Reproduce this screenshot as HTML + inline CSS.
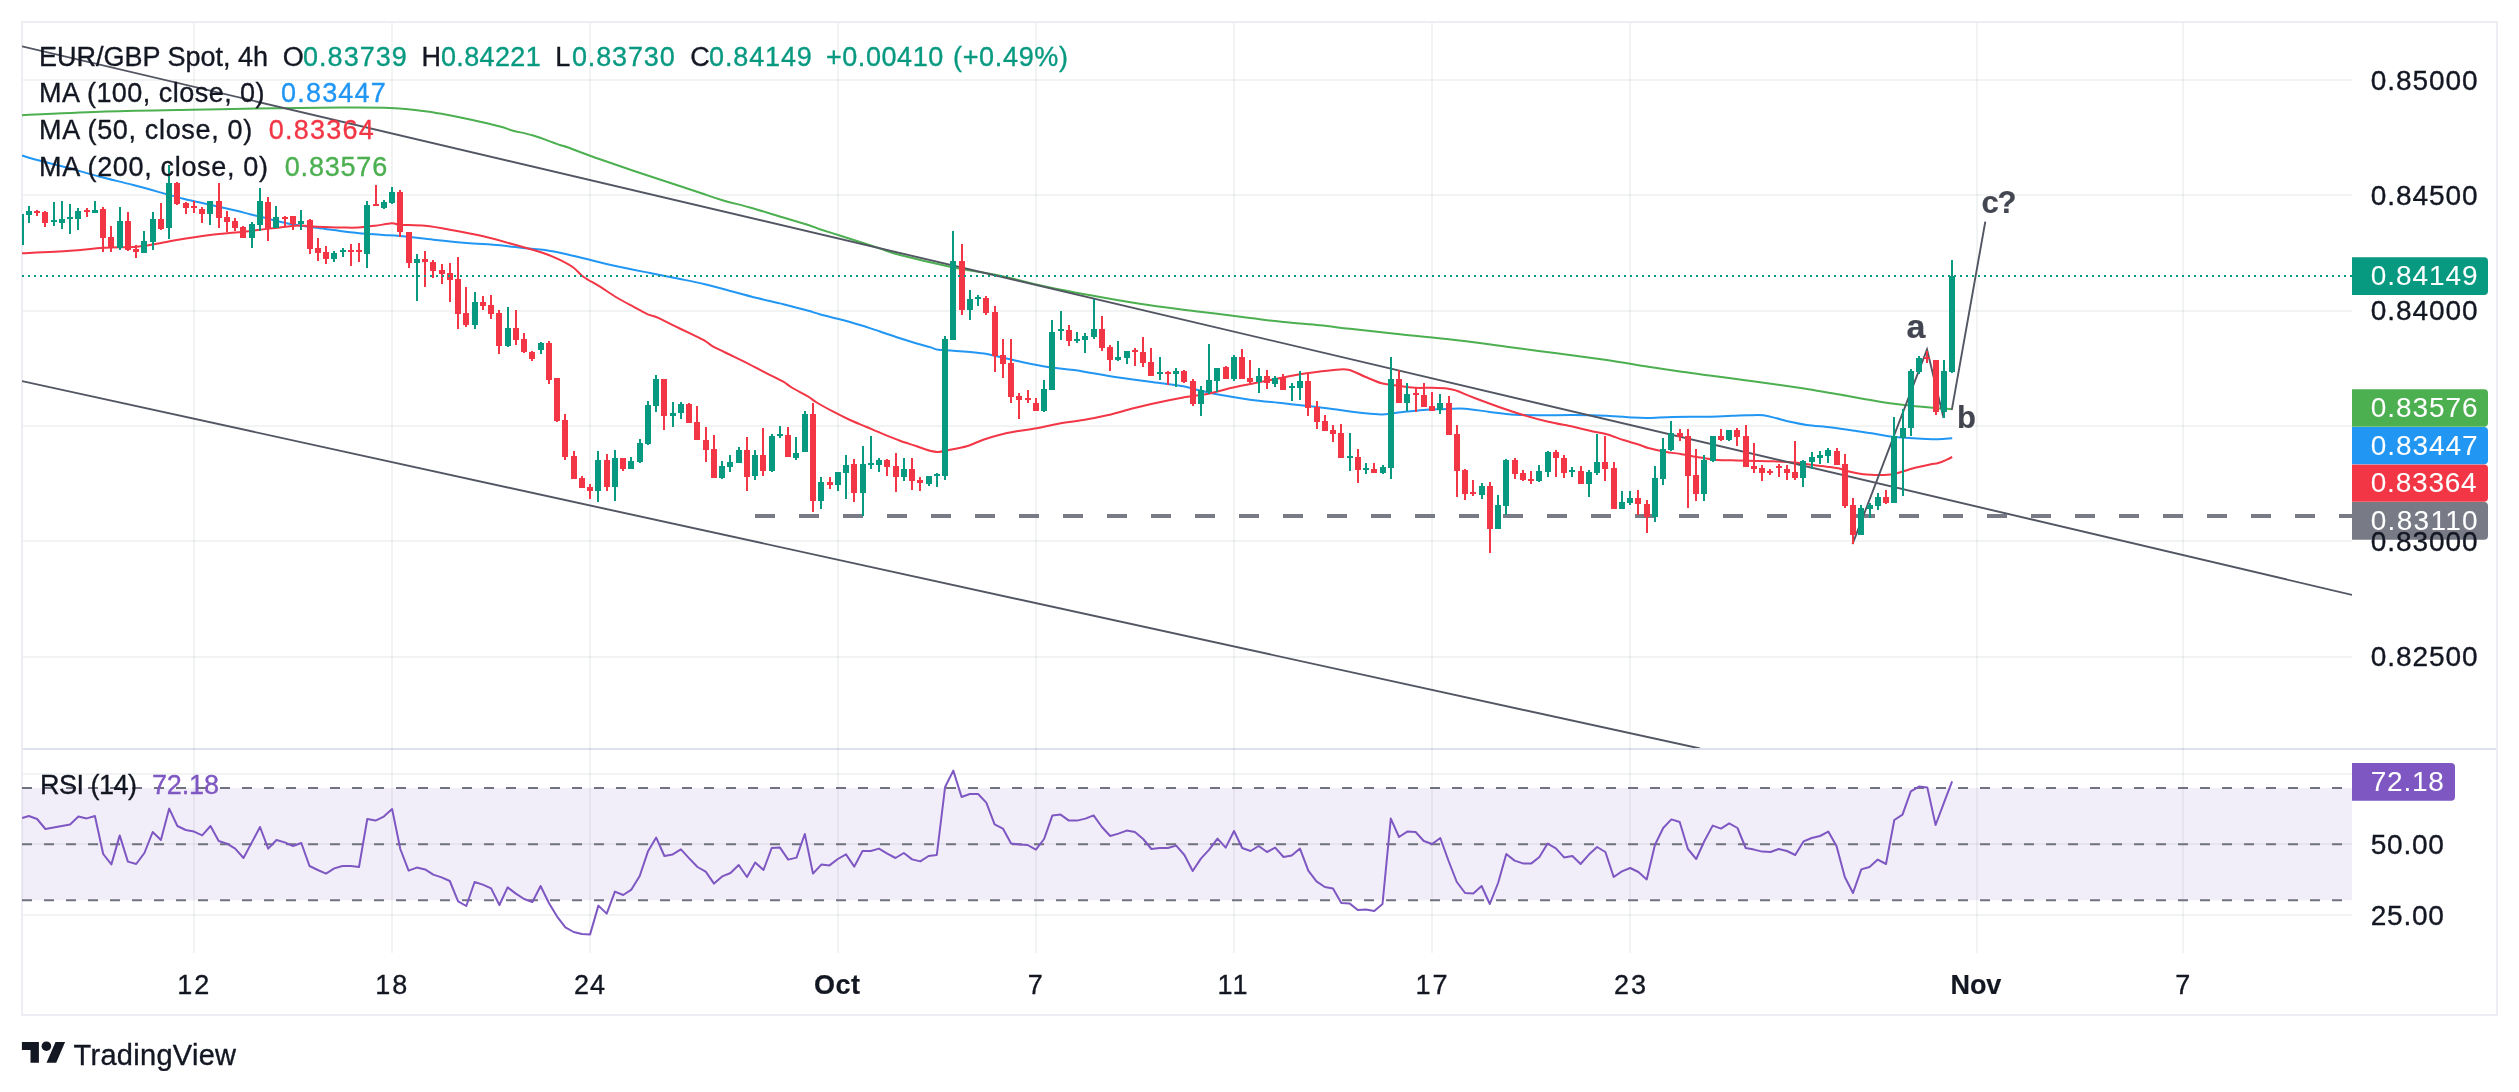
<!DOCTYPE html><html><head><meta charset="utf-8"><title>EUR/GBP chart</title><style>html,body{margin:0;padding:0;background:#fff}svg{display:block}</style></head><body><svg width="2519" height="1092" viewBox="0 0 2519 1092" font-family="Liberation Sans, sans-serif">
<defs><clipPath id="cm"><rect x="22" y="22" width="2330" height="726"/></clipPath><clipPath id="cr"><rect x="22" y="749" width="2330" height="204"/></clipPath><filter id="nf" filterUnits="userSpaceOnUse" x="0" y="0" width="2519" height="1092"><feOffset dx="0" dy="0"/></filter></defs>
<rect width="2519" height="1092" fill="#fff"/>
<path d="M23 749H2496" stroke="#DDE1EB" stroke-width="2" fill="none"/>
<rect x="22" y="22" width="2475" height="993" fill="none" stroke="#ECEEF3" stroke-width="2"/>
<path d="M194 23V953M392 23V953M590 23V953M838 23V953M1036 23V953M1234 23V953M1432 23V953M1630 23V953M1977 23V953M2183 23V953" stroke="rgba(42,46,57,0.06)" stroke-width="2" fill="none"/>
<path d="M23 80H2352M23 195H2352M23 311H2352M23 426H2352M23 541H2352M23 657H2352M23 774H2352M23 844H2352M23 915H2352" stroke="rgba(42,46,57,0.06)" stroke-width="2" fill="none"/>
<rect x="22" y="788" width="2330" height="112.2" fill="rgba(126,87,194,0.1)"/>
<path d="M22 788H2352M22 844.2H2352M22 900.2H2352"  stroke="#70737F" stroke-width="2" stroke-dasharray="10 12" fill="none"/>
<path d="M22.0 818.0 L28.9 816.0 L37.1 819.0 L45.4 829.0 L53.6 827.6 L61.9 826.0 L70.1 824.4 L78.4 816.6 L86.7 818.4 L94.9 816.0 L103.2 854.0 L111.4 864.4 L119.7 835.4 L127.9 861.6 L136.2 864.0 L144.4 853.0 L152.7 832.0 L160.9 840.0 L169.2 808.6 L177.4 826.0 L185.7 830.0 L194.0 831.6 L202.2 835.4 L210.5 826.0 L218.7 841.0 L227.0 843.6 L235.2 848.6 L243.5 858.0 L251.7 842.6 L260.0 827.0 L268.2 848.6 L276.5 840.0 L284.7 842.4 L293.0 846.0 L301.3 843.0 L309.5 866.0 L317.8 870.0 L326.0 873.6 L334.3 868.4 L342.5 866.0 L350.8 866.0 L359.0 867.0 L367.3 819.0 L375.5 820.6 L383.8 816.6 L392.1 809.0 L400.3 849.0 L408.6 870.6 L416.8 867.6 L425.1 869.4 L433.3 874.6 L441.6 877.4 L449.8 881.0 L458.1 901.4 L466.3 906.0 L474.6 882.0 L482.8 884.6 L491.1 888.4 L499.4 905.0 L507.6 887.4 L515.9 893.6 L524.1 899.0 L532.4 902.0 L540.6 886.0 L548.9 903.0 L557.1 916.6 L565.4 927.4 L573.6 932.0 L581.9 934.0 L590.1 934.4 L598.4 905.6 L606.7 913.6 L614.9 891.6 L623.2 895.0 L631.4 889.6 L639.7 876.0 L647.9 851.6 L656.2 837.6 L664.4 856.0 L672.7 854.4 L680.9 849.4 L689.2 858.4 L697.5 867.0 L705.7 871.6 L714.0 883.6 L722.2 876.4 L730.5 873.0 L738.7 865.0 L747.0 877.0 L755.2 862.6 L763.5 870.0 L771.7 848.0 L780.0 847.6 L788.2 859.6 L796.5 857.6 L804.8 834.0 L813.0 873.6 L821.3 864.6 L829.5 865.4 L837.8 859.0 L846.0 854.4 L854.3 866.6 L862.5 851.0 L870.8 851.0 L879.0 848.6 L887.3 853.6 L895.5 858.0 L903.8 853.0 L912.1 859.4 L920.3 861.4 L928.6 856.0 L936.8 855.0 L945.1 787.0 L953.3 770.6 L961.6 797.0 L969.8 794.0 L978.1 794.0 L986.3 802.6 L994.6 824.4 L1002.9 828.6 L1011.1 843.4 L1019.4 844.4 L1027.6 845.0 L1035.9 849.6 L1044.1 839.0 L1052.4 815.4 L1060.6 814.6 L1068.9 820.6 L1077.1 820.6 L1085.4 818.6 L1093.6 815.4 L1101.9 827.0 L1110.2 836.0 L1118.4 833.6 L1126.7 830.6 L1134.9 832.0 L1143.2 839.0 L1151.4 849.0 L1159.7 848.0 L1167.9 848.0 L1176.2 845.6 L1184.4 855.0 L1192.7 871.0 L1200.9 858.6 L1209.2 849.6 L1217.5 838.6 L1225.7 847.6 L1234.0 831.0 L1242.2 848.0 L1250.5 851.0 L1258.7 846.0 L1267.0 852.0 L1275.2 847.6 L1283.5 857.0 L1291.7 855.6 L1300.0 848.6 L1308.3 870.6 L1316.5 881.4 L1324.8 887.0 L1333.0 888.6 L1341.3 903.0 L1349.5 903.4 L1357.8 910.0 L1366.0 909.6 L1374.3 911.0 L1382.5 904.0 L1390.8 818.6 L1399.0 837.0 L1407.3 831.6 L1415.6 832.0 L1423.8 841.0 L1432.1 844.0 L1440.3 838.0 L1448.6 861.0 L1456.8 882.0 L1465.1 893.0 L1473.3 893.4 L1481.6 886.0 L1489.8 904.0 L1498.1 883.0 L1506.3 854.0 L1514.6 860.6 L1522.9 863.4 L1531.1 863.6 L1539.4 857.0 L1547.6 843.6 L1555.9 848.4 L1564.1 857.4 L1572.4 856.0 L1580.6 864.0 L1588.9 854.6 L1597.1 847.0 L1605.4 852.0 L1613.7 877.0 L1621.9 871.4 L1630.2 868.0 L1638.4 872.0 L1646.7 879.4 L1654.9 845.0 L1663.2 828.0 L1671.4 819.4 L1679.7 822.0 L1687.9 849.0 L1696.2 859.0 L1704.4 841.0 L1712.7 825.6 L1721.0 828.6 L1729.2 823.4 L1737.5 828.0 L1745.7 848.0 L1754.0 849.6 L1762.2 851.6 L1770.5 852.0 L1778.7 849.0 L1787.0 851.0 L1795.2 855.0 L1803.5 841.4 L1811.7 838.0 L1820.0 836.0 L1828.3 831.6 L1836.5 846.0 L1844.8 877.0 L1853.0 893.0 L1861.3 869.4 L1869.5 867.0 L1877.8 859.6 L1886.0 864.0 L1894.3 820.0 L1902.5 814.6 L1910.8 791.4 L1919.1 786.6 L1927.3 787.4 L1935.6 825.0 L1943.8 803.2 L1952.1 781.4" stroke="#7E57C2" stroke-width="2" fill="none" stroke-linejoin="round" clip-path="url(#cr)"/>
<g clip-path="url(#cm)">
<path d="M22.0 115.3C36.0 114.7 77.5 112.4 105.7 111.5C133.9 110.6 162.9 110.2 191.5 109.7C220.1 109.2 252.2 108.6 277.2 108.2C302.2 107.8 323.6 107.7 341.5 107.6C359.4 107.5 373.7 107.6 384.4 107.8C395.1 108.0 398.8 108.3 405.9 108.9C413.0 109.5 420.3 110.5 427.3 111.5C434.3 112.5 440.9 113.7 448.0 115.0C455.1 116.3 461.5 117.7 470.2 119.6C478.9 121.5 492.9 124.7 500.0 126.5C507.1 128.3 507.4 129.2 513.0 130.7C518.5 132.2 525.5 133.1 533.3 135.5C541.1 137.9 554.4 143.1 560.0 145.0C565.6 146.9 560.0 144.6 566.7 147.0C573.4 149.4 588.9 155.4 600.0 159.3C611.1 163.2 622.2 167.0 633.3 170.7C644.4 174.4 655.6 178.0 666.7 181.7C677.8 185.4 690.8 189.6 700.0 192.7C709.2 195.8 713.4 197.5 721.7 200.0C730.0 202.5 739.7 204.6 750.0 207.5C760.3 210.4 773.6 214.6 783.3 217.5C793.0 220.4 802.2 223.1 808.3 225.0C814.4 226.9 814.6 227.4 819.8 229.2C825.0 230.9 833.0 233.4 839.7 235.5C846.4 237.6 853.3 239.8 860.0 242.0C866.7 244.2 873.3 246.3 880.0 248.5C886.7 250.7 888.3 252.0 900.0 255.0C911.7 258.0 933.3 263.2 950.0 266.7C966.7 270.2 983.3 272.3 1000.0 275.8C1016.7 279.3 1033.3 284.0 1050.0 287.5C1066.7 291.0 1083.3 294.0 1100.0 297.0C1116.7 300.0 1133.3 302.9 1150.0 305.3C1166.7 307.8 1183.3 309.6 1200.0 311.7C1216.7 313.8 1236.1 316.3 1250.0 318.0C1263.9 319.7 1271.7 320.8 1283.3 322.0C1294.9 323.2 1308.7 324.2 1319.8 325.3C1330.9 326.4 1336.6 327.3 1350.0 328.8C1363.4 330.3 1382.5 332.3 1400.0 334.2C1417.5 336.1 1437.2 337.9 1455.0 340.0C1472.8 342.1 1489.8 344.5 1506.7 346.7C1523.7 348.9 1540.0 351.1 1556.7 353.3C1573.4 355.5 1591.4 357.8 1606.7 360.0C1622.0 362.2 1635.8 364.8 1648.3 366.7C1660.8 368.6 1671.5 370.2 1681.7 371.7C1692.0 373.2 1699.2 374.1 1709.8 375.5C1720.3 376.9 1733.3 378.7 1745.0 380.3C1756.7 381.9 1768.6 383.4 1780.0 385.0C1791.4 386.6 1802.2 388.2 1813.3 390.0C1824.4 391.8 1835.6 393.9 1846.7 395.8C1857.8 397.8 1870.3 400.2 1880.0 401.7C1889.7 403.2 1896.7 404.0 1905.0 405.0C1913.3 406.0 1922.2 406.8 1930.0 407.5C1937.8 408.2 1948.1 408.9 1951.7 409.2" stroke="#4CAF50" stroke-width="2" fill="none" stroke-linejoin="round"/>
<path d="M22.0 155.4C23.9 156.0 25.8 157.0 33.3 159.0C40.8 161.0 55.6 164.6 66.7 167.5C77.8 170.4 88.9 173.8 100.0 176.7C111.1 179.6 122.2 182.1 133.3 185.0C144.4 187.9 158.4 191.9 166.7 194.2C175.0 196.5 177.8 197.3 183.3 198.7C188.9 200.1 191.7 200.6 200.0 202.5C208.3 204.4 225.0 208.1 233.3 210.0C241.6 211.9 244.4 212.8 250.0 214.2C255.6 215.6 261.1 216.9 266.7 218.3C272.2 219.7 277.8 221.3 283.3 222.5C288.9 223.7 294.4 224.6 300.0 225.5C305.6 226.4 311.1 227.1 316.7 227.8C322.2 228.6 327.8 229.3 333.3 230.0C338.9 230.7 344.4 231.6 350.0 232.2C355.6 232.8 361.1 233.3 366.7 233.8C372.2 234.3 377.8 234.6 383.3 235.0C388.9 235.4 391.7 235.2 400.0 236.0C408.3 236.8 422.2 238.5 433.3 239.7C444.4 240.9 455.6 242.1 466.7 243.0C477.8 243.9 490.3 244.4 500.0 245.3C509.7 246.2 517.5 247.5 525.0 248.3C532.5 249.1 538.0 249.0 545.0 250.0C552.0 251.0 560.3 252.8 566.7 254.2C573.1 255.6 575.0 256.3 583.3 258.3C591.6 260.3 605.6 263.9 616.7 266.3C627.8 268.8 640.3 271.1 650.0 273.0C659.7 274.9 665.8 276.1 675.0 278.0C684.2 279.9 695.3 281.9 705.0 284.2C714.7 286.5 724.4 289.3 733.3 291.7C742.2 294.1 750.0 296.2 758.3 298.3C766.6 300.4 775.0 302.1 783.3 304.2C791.6 306.3 802.2 309.1 808.3 310.8C814.4 312.5 814.6 312.8 819.8 314.2C825.0 315.6 833.0 317.5 839.7 319.3C846.4 321.1 853.3 323.0 860.0 325.0C866.7 327.0 873.3 329.3 880.0 331.5C886.7 333.7 893.9 336.3 900.0 338.3C906.1 340.3 911.7 342.0 916.7 343.5C921.7 345.0 926.4 346.1 930.0 347.1C933.6 348.2 934.8 349.2 938.3 349.8C941.8 350.4 945.9 350.1 950.8 350.4C955.7 350.7 961.9 351.3 967.5 351.8C973.1 352.3 979.3 352.9 984.2 353.6C989.1 354.4 991.9 355.2 996.7 356.3C1001.6 357.4 1007.0 358.6 1013.3 360.0C1019.5 361.4 1028.0 363.4 1034.2 364.6C1040.5 365.9 1043.9 366.6 1050.8 367.5C1057.7 368.4 1069.5 369.4 1075.8 370.2C1082.0 371.0 1082.0 371.4 1088.3 372.5C1094.5 373.6 1103.0 375.2 1113.3 376.7C1123.6 378.2 1138.3 380.1 1150.0 381.7C1161.7 383.3 1175.0 384.8 1183.3 386.3C1191.6 387.8 1194.4 389.2 1200.0 390.5C1205.6 391.8 1208.4 392.7 1216.7 394.2C1225.0 395.7 1238.9 398.2 1250.0 399.7C1261.1 401.2 1272.5 402.1 1283.3 403.3C1294.1 404.5 1305.5 405.6 1315.0 406.7C1324.5 407.8 1331.7 408.9 1340.0 410.0C1348.3 411.1 1358.0 412.6 1365.0 413.3C1372.0 414.1 1376.2 414.6 1381.7 414.5C1387.2 414.4 1391.4 413.2 1398.3 412.5C1405.2 411.8 1416.3 410.6 1423.3 410.0C1430.2 409.4 1433.0 409.4 1440.0 409.2C1447.0 409.0 1456.7 408.2 1465.0 408.7C1473.3 409.2 1481.7 411.0 1490.0 412.0C1498.3 413.0 1506.7 414.1 1515.0 414.7C1523.3 415.2 1530.3 415.2 1540.0 415.3C1549.7 415.4 1562.2 414.9 1573.3 415.0C1584.4 415.1 1597.0 415.4 1606.7 415.8C1616.4 416.2 1624.8 417.1 1631.7 417.5C1638.6 417.9 1641.4 418.1 1648.3 418.0C1655.2 417.9 1663.6 417.2 1673.3 417.0C1683.0 416.8 1697.0 416.9 1706.7 416.7C1716.4 416.5 1724.8 416.0 1731.7 415.8C1738.6 415.6 1743.0 415.4 1748.3 415.3C1753.6 415.2 1758.6 414.8 1763.3 415.3C1768.0 415.8 1772.2 417.2 1776.7 418.3C1781.2 419.4 1785.0 420.6 1790.0 421.7C1795.0 422.8 1799.8 424.0 1806.7 425.0C1813.7 426.0 1823.7 426.5 1831.7 427.5C1839.8 428.5 1848.3 429.8 1855.0 430.8C1861.7 431.8 1866.2 432.4 1871.7 433.3C1877.2 434.2 1882.8 435.6 1888.3 436.3C1893.8 437.1 1899.4 437.4 1905.0 437.8C1910.6 438.2 1916.2 438.5 1921.7 438.7C1927.2 438.9 1933.2 439.3 1938.3 439.2C1943.4 439.1 1949.9 438.4 1952.2 438.3" stroke="#2196F3" stroke-width="2" fill="none" stroke-linejoin="round"/>
<path d="M22.0 253.3C30.0 252.9 56.5 251.7 70.0 250.8C83.5 249.9 92.2 248.5 103.3 247.8C114.4 247.1 127.2 247.4 136.7 246.7C146.1 245.9 153.3 244.4 160.0 243.3C166.7 242.2 168.4 241.4 176.7 240.0C185.0 238.6 198.9 236.4 210.0 235.0C221.1 233.6 235.0 232.6 243.3 231.7C251.6 230.8 253.3 230.5 260.0 229.7C266.7 228.9 276.6 227.7 283.3 227.0C290.0 226.3 294.4 225.6 300.0 225.5C305.6 225.4 309.8 226.4 316.7 226.7C323.6 227.0 334.8 227.4 341.7 227.5C348.6 227.6 352.8 227.8 358.3 227.5C363.9 227.2 369.4 226.5 375.0 225.8C380.6 225.1 387.5 223.5 391.7 223.3C395.9 223.1 394.4 224.3 400.0 224.7C405.6 225.1 416.7 225.0 425.0 225.8C433.3 226.6 440.3 227.9 450.0 229.7C459.7 231.4 472.2 233.7 483.3 236.3C494.4 238.9 507.0 242.6 516.7 245.3C526.4 248.0 534.8 250.2 541.7 252.5C548.6 254.8 553.0 256.7 558.3 259.2C563.6 261.7 569.1 264.6 573.3 267.5C577.5 270.4 578.8 273.5 583.3 276.7C587.8 279.9 594.4 283.2 600.0 286.7C605.6 290.2 611.2 294.2 616.7 297.5C622.2 300.8 628.3 304.0 633.3 306.7C638.3 309.4 642.5 311.9 646.7 313.8C650.9 315.7 653.6 315.7 658.3 317.8C663.0 319.9 669.4 323.5 675.0 326.2C680.6 328.9 686.7 331.8 691.7 334.2C696.7 336.6 701.4 338.7 705.0 340.8C708.6 342.9 708.6 344.1 713.3 346.7C718.0 349.3 727.2 353.3 733.3 356.3C739.4 359.3 744.4 361.8 750.0 364.6C755.6 367.4 761.2 370.5 766.7 373.3C772.2 376.1 779.1 379.3 783.3 381.7C787.5 384.1 787.5 385.0 791.7 387.5C795.9 390.0 804.1 394.2 808.3 396.7C812.5 399.2 812.5 400.0 816.7 402.5C820.9 405.0 827.8 408.8 833.3 411.7C838.8 414.6 844.4 417.4 850.0 420.0C855.6 422.6 861.2 424.6 866.7 427.0C872.2 429.4 877.8 431.9 883.3 434.2C888.8 436.5 894.4 438.8 900.0 440.8C905.6 442.8 911.7 444.6 916.7 446.3C921.7 448.0 926.4 449.9 930.0 450.8C933.6 451.8 935.0 452.2 938.3 452.0C941.6 451.8 945.3 450.6 950.0 449.7C954.7 448.8 961.2 448.0 966.7 446.3C972.2 444.6 977.8 441.6 983.3 439.7C988.8 437.8 994.4 436.1 1000.0 434.7C1005.6 433.3 1010.6 432.4 1016.7 431.3C1022.8 430.2 1029.8 429.6 1036.7 428.3C1043.6 427.0 1050.5 425.1 1058.3 423.7C1066.1 422.3 1075.0 421.4 1083.3 420.0C1091.6 418.6 1100.0 416.9 1108.3 415.0C1116.6 413.1 1125.0 410.4 1133.3 408.3C1141.6 406.2 1150.0 404.3 1158.3 402.5C1166.6 400.7 1175.0 399.0 1183.3 397.5C1191.6 396.0 1200.0 395.4 1208.3 393.7C1216.6 392.0 1223.6 389.6 1233.3 387.5C1243.0 385.4 1257.0 382.8 1266.7 380.8C1276.4 378.9 1285.0 377.1 1291.7 375.8C1298.4 374.6 1300.0 374.2 1306.7 373.3C1313.4 372.4 1324.8 370.9 1331.7 370.3C1338.6 369.7 1342.8 368.6 1348.3 369.7C1353.8 370.8 1359.4 374.4 1365.0 376.7C1370.6 379.0 1376.2 381.8 1381.7 383.3C1387.2 384.8 1392.8 385.1 1398.3 385.8C1403.8 386.6 1409.4 387.5 1415.0 387.8C1420.6 388.1 1426.2 387.7 1431.7 387.8C1437.2 387.9 1444.1 388.2 1448.3 388.7C1452.5 389.2 1452.5 389.3 1456.7 390.8C1460.9 392.3 1466.4 394.9 1473.3 397.5C1480.2 400.1 1490.0 403.8 1498.3 406.7C1506.6 409.6 1515.0 412.5 1523.3 415.0C1531.6 417.5 1540.0 419.8 1548.3 421.7C1556.6 423.6 1566.3 425.2 1573.3 426.7C1580.2 428.2 1584.4 429.6 1590.0 430.8C1595.6 432.1 1601.2 432.7 1606.7 434.2C1612.2 435.7 1617.8 438.2 1623.3 440.0C1628.8 441.8 1635.8 443.7 1640.0 445.0C1644.2 446.3 1644.1 446.9 1648.3 448.0C1652.5 449.1 1659.4 450.7 1665.0 451.7C1670.6 452.7 1676.2 453.3 1681.7 454.2C1687.2 455.1 1692.8 456.3 1698.3 457.2C1703.8 458.1 1709.4 459.2 1715.0 459.7C1720.6 460.2 1726.2 460.1 1731.7 460.3C1737.2 460.5 1741.4 460.6 1748.3 460.8C1755.2 461.0 1765.2 461.0 1773.3 461.3C1781.4 461.6 1790.0 462.2 1796.7 462.8C1803.4 463.4 1807.8 464.3 1813.3 465.0C1818.8 465.7 1825.8 466.4 1830.0 467.0C1834.2 467.6 1835.0 467.5 1838.3 468.3C1841.6 469.1 1845.8 470.7 1850.0 471.7C1854.2 472.7 1858.3 473.6 1863.3 474.2C1868.3 474.8 1875.0 475.0 1880.0 475.0C1885.0 475.0 1889.1 474.9 1893.3 474.2C1897.5 473.5 1901.7 471.8 1905.0 470.8C1908.3 469.8 1909.1 469.4 1913.3 468.3C1917.5 467.2 1925.8 465.4 1930.0 464.5C1934.2 463.6 1935.5 463.8 1938.3 463.0C1941.1 462.2 1944.4 460.7 1946.7 459.7C1949.0 458.7 1951.3 457.4 1952.2 457.0" stroke="#F23645" stroke-width="2" fill="none" stroke-linejoin="round"/>
<path d="M22 46.3L2352 594.9" stroke="#525562" stroke-width="1.9" fill="none"/>
<path d="M22 381.1L1700 748.5" stroke="#525562" stroke-width="1.9" fill="none"/>
<path d="M755 516H2352" stroke="#787B86" stroke-width="4" stroke-dasharray="20 24" fill="none"/>
<path d="M1852.5 544.2L1927 349.5L1943.6 418M1951.8 409.8L1985.3 221.7" stroke="#525562" stroke-width="1.9" fill="none" stroke-linejoin="miter"/>
<path d="M20 214h2V245h-2zM18 214h6V245h-6zM28 206h2V223h-2zM26 211h6V215h-6zM53 202h2V226h-2zM51 220h6V222h-6zM61 201h2V229h-2zM59 219h6V223h-6zM69 204h2V234h-2zM67 217h6V219h-6zM77 208h2V230h-2zM75 211h6V219h-6zM94 201h2V213h-2zM92 210h6V213h-6zM119 207h2V250h-2zM117 221h6V248h-6zM143 231h2V253h-2zM141 241h6V253h-6zM152 212h2V250h-2zM150 219h6V242h-6zM168 165h2V239h-2zM166 183h6V228h-6zM209 201h2V225h-2zM207 201h6V214h-6zM251 222h2V248h-2zM249 224h6V238h-6zM259 188h2V231h-2zM257 201h6V225h-6zM275 206h2V228h-2zM273 217h6V228h-6zM300 210h2V230h-2zM298 221h6V224h-6zM333 251h2V262h-2zM331 253h6V259h-6zM342 248h2V257h-2zM340 250h6V252h-6zM366 201h2V268h-2zM364 205h6V254h-6zM383 200h2V209h-2zM381 202h6V208h-6zM391 187h2V204h-2zM389 192h6V203h-6zM416 254h2V301h-2zM414 259h6V263h-6zM474 292h2V329h-2zM472 302h6V325h-6zM507 307h2V347h-2zM505 328h6V346h-6zM540 342h2V354h-2zM538 343h6V350h-6zM597 451h2V502h-2zM595 460h6V491h-6zM614 450h2V501h-2zM612 458h6V487h-6zM630 457h2V469h-2zM628 461h6V469h-6zM639 439h2V463h-2zM637 443h6V462h-6zM647 401h2V445h-2zM645 405h6V444h-6zM655 375h2V412h-2zM653 379h6V406h-6zM672 402h2V427h-2zM670 413h6V416h-6zM680 402h2V419h-2zM678 404h6V413h-6zM721 461h2V479h-2zM719 466h6V478h-6zM729 455h2V472h-2zM727 462h6V467h-6zM738 447h2V463h-2zM736 450h6V463h-6zM754 450h2V480h-2zM752 455h6V476h-6zM771 434h2V472h-2zM769 436h6V471h-6zM779 426h2V438h-2zM777 434h6V436h-6zM795 437h2V460h-2zM793 453h6V458h-6zM804 411h2V452h-2zM802 414h6V452h-6zM820 477h2V509h-2zM818 482h6V501h-6zM837 472h2V491h-2zM835 472h6V485h-6zM845 455h2V499h-2zM843 465h6V473h-6zM862 446h2V516h-2zM860 464h6V493h-6zM870 436h2V469h-2zM868 463h6V465h-6zM878 458h2V472h-2zM876 460h6V465h-6zM903 458h2V481h-2zM901 469h6V477h-6zM928 476h2V486h-2zM926 476h6V484h-6zM936 473h2V487h-2zM934 474h6V476h-6zM944 336h2V480h-2zM942 339h6V476h-6zM952 231h2V340h-2zM950 261h6V340h-6zM969 290h2V320h-2zM967 299h6V310h-6zM977 295h2V306h-2zM975 297h6V299h-6zM1043 380h2V412h-2zM1041 389h6V411h-6zM1051 320h2V390h-2zM1049 332h6V390h-6zM1060 311h2V340h-2zM1058 329h6V331h-6zM1076 332h2V343h-2zM1074 339h6V341h-6zM1084 333h2V353h-2zM1082 336h6V340h-6zM1093 299h2V339h-2zM1091 329h6V337h-6zM1117 341h2V361h-2zM1115 357h6V360h-6zM1126 351h2V364h-2zM1124 351h6V358h-6zM1159 357h2V380h-2zM1157 372h6V374h-6zM1175 368h2V387h-2zM1173 371h6V374h-6zM1200 386h2V416h-2zM1198 390h6V404h-6zM1208 344h2V394h-2zM1206 380h6V392h-6zM1216 368h2V392h-2zM1214 368h6V381h-6zM1233 355h2V381h-2zM1231 357h6V379h-6zM1258 368h2V393h-2zM1256 376h6V382h-6zM1274 376h2V387h-2zM1272 378h6V384h-6zM1291 383h2V401h-2zM1289 386h6V388h-6zM1299 371h2V400h-2zM1297 381h6V388h-6zM1349 433h2V471h-2zM1347 456h6V458h-6zM1365 463h2V474h-2zM1363 468h6V470h-6zM1382 465h2V474h-2zM1380 467h6V473h-6zM1390 357h2V479h-2zM1388 379h6V468h-6zM1406 383h2V411h-2zM1404 394h6V403h-6zM1439 394h2V414h-2zM1437 403h6V410h-6zM1481 483h2V499h-2zM1479 486h6V495h-6zM1497 495h2V529h-2zM1495 505h6V529h-6zM1505 459h2V515h-2zM1503 460h6V506h-6zM1538 465h2V482h-2zM1536 471h6V481h-6zM1547 451h2V477h-2zM1545 452h6V472h-6zM1571 467h2V477h-2zM1569 470h6V472h-6zM1588 470h2V497h-2zM1586 472h6V484h-6zM1596 434h2V475h-2zM1594 462h6V473h-6zM1621 491h2V509h-2zM1619 502h6V509h-6zM1629 491h2V505h-2zM1627 498h6V503h-6zM1654 466h2V522h-2zM1652 478h6V517h-6zM1662 438h2V485h-2zM1660 449h6V479h-6zM1670 421h2V451h-2zM1668 433h6V450h-6zM1703 455h2V501h-2zM1701 460h6V494h-6zM1712 436h2V462h-2zM1710 436h6V461h-6zM1728 430h2V441h-2zM1726 430h6V440h-6zM1802 460h2V487h-2zM1800 461h6V478h-6zM1811 452h2V469h-2zM1809 457h6V462h-6zM1819 451h2V464h-2zM1817 455h6V458h-6zM1827 448h2V463h-2zM1825 450h6V456h-6zM1860 505h2V535h-2zM1858 508h6V535h-6zM1869 503h2V518h-2zM1867 505h6V509h-6zM1877 493h2V510h-2zM1875 497h6V506h-6zM1893 417h2V503h-2zM1891 436h6V503h-6zM1902 409h2V496h-2zM1900 428h6V438h-6zM1910 369h2V436h-2zM1908 371h6V428h-6zM1918 356h2V374h-2zM1916 358h6V372h-6zM1943 360h2V418h-2zM1941 371h6V412h-6zM1951 260h2V373h-2zM1949 276h6V372h-6z" fill="#089981"/>
<path d="M36 210h2V216h-2zM34 211h6V213h-6zM44 211h2V227h-2zM42 212h6V223h-6zM86 208h2V217h-2zM84 210h6V212h-6zM102 207h2V252h-2zM100 209h6V238h-6zM110 226h2V252h-2zM108 237h6V247h-6zM127 212h2V251h-2zM125 221h6V250h-6zM135 245h2V258h-2zM133 249h6V252h-6zM160 203h2V230h-2zM158 219h6V229h-6zM176 182h2V205h-2zM174 183h6V204h-6zM185 202h2V214h-2zM183 203h6V208h-6zM193 201h2V213h-2zM191 206h6V208h-6zM201 207h2V223h-2zM199 209h6V214h-6zM218 183h2V228h-2zM216 201h6V218h-6zM226 211h2V232h-2zM224 217h6V222h-6zM234 218h2V231h-2zM232 221h6V228h-6zM242 226h2V238h-2zM240 227h6V238h-6zM267 197h2V241h-2zM265 202h6V228h-6zM284 216h2V227h-2zM282 217h6V219h-6zM292 216h2V230h-2zM290 216h6V224h-6zM309 219h2V254h-2zM307 220h6V249h-6zM317 238h2V261h-2zM315 248h6V253h-6zM325 246h2V264h-2zM323 252h6V259h-6zM350 244h2V266h-2zM348 250h6V252h-6zM358 243h2V262h-2zM356 250h6V252h-6zM375 185h2V206h-2zM373 204h6V206h-6zM399 190h2V237h-2zM397 192h6V232h-6zM408 232h2V268h-2zM406 232h6V263h-6zM424 251h2V287h-2zM422 259h6V262h-6zM432 260h2V278h-2zM430 262h6V271h-6zM441 264h2V284h-2zM439 270h6V274h-6zM449 263h2V302h-2zM447 273h6V280h-6zM457 257h2V329h-2zM455 279h6V314h-6zM465 287h2V327h-2zM463 313h6V325h-6zM482 296h2V310h-2zM480 302h6V306h-6zM490 295h2V319h-2zM488 305h6V314h-6zM498 310h2V354h-2zM496 313h6V346h-6zM515 310h2V345h-2zM513 328h6V340h-6zM523 333h2V353h-2zM521 339h6V352h-6zM531 351h2V361h-2zM529 352h6V359h-6zM548 341h2V384h-2zM546 343h6V380h-6zM556 378h2V422h-2zM554 378h6V421h-6zM564 414h2V460h-2zM562 420h6V457h-6zM573 451h2V479h-2zM571 456h6V479h-6zM581 476h2V488h-2zM579 478h6V488h-6zM589 484h2V499h-2zM587 487h6V491h-6zM606 454h2V491h-2zM604 460h6V487h-6zM622 458h2V471h-2zM620 458h6V469h-6zM663 379h2V430h-2zM661 379h6V416h-6zM688 403h2V423h-2zM686 404h6V423h-6zM696 406h2V440h-2zM694 422h6V440h-6zM705 427h2V462h-2zM703 440h6V450h-6zM713 435h2V478h-2zM711 449h6V478h-6zM746 437h2V491h-2zM744 450h6V477h-6zM762 428h2V476h-2zM760 455h6V471h-6zM787 427h2V457h-2zM785 435h6V457h-6zM812 403h2V512h-2zM810 414h6V501h-6zM829 477h2V489h-2zM827 482h6V485h-6zM853 459h2V502h-2zM851 464h6V493h-6zM886 459h2V476h-2zM884 460h6V467h-6zM895 453h2V492h-2zM893 466h6V477h-6zM911 458h2V490h-2zM909 469h6V481h-6zM919 477h2V491h-2zM917 480h6V483h-6zM961 244h2V315h-2zM959 261h6V310h-6zM985 296h2V315h-2zM983 298h6V313h-6zM994 306h2V372h-2zM992 312h6V356h-6zM1002 339h2V378h-2zM1000 355h6V364h-6zM1010 339h2V403h-2zM1008 363h6V397h-6zM1018 393h2V419h-2zM1016 396h6V400h-6zM1027 390h2V403h-2zM1025 398h6V400h-6zM1035 398h2V411h-2zM1033 403h6V411h-6zM1068 325h2V346h-2zM1066 330h6V341h-6zM1101 316h2V351h-2zM1099 329h6V348h-6zM1109 345h2V371h-2zM1107 347h6V360h-6zM1134 348h2V366h-2zM1132 350h6V352h-6zM1142 337h2V367h-2zM1140 352h6V363h-6zM1150 348h2V376h-2zM1148 362h6V376h-6zM1167 371h2V385h-2zM1165 372h6V374h-6zM1183 370h2V383h-2zM1181 371h6V382h-6zM1192 379h2V406h-2zM1190 381h6V404h-6zM1225 366h2V379h-2zM1223 367h6V379h-6zM1241 349h2V379h-2zM1239 357h6V379h-6zM1249 360h2V384h-2zM1247 378h6V382h-6zM1266 370h2V389h-2zM1264 376h6V383h-6zM1282 374h2V390h-2zM1280 378h6V390h-6zM1307 374h2V416h-2zM1305 381h6V408h-6zM1316 401h2V429h-2zM1314 407h6V422h-6zM1324 415h2V431h-2zM1322 421h6V431h-6zM1332 425h2V442h-2zM1330 430h6V434h-6zM1340 424h2V458h-2zM1338 433h6V458h-6zM1357 449h2V483h-2zM1355 457h6V470h-6zM1373 463h2V473h-2zM1371 469h6V473h-6zM1398 370h2V403h-2zM1396 379h6V403h-6zM1415 388h2V412h-2zM1413 393h6V395h-6zM1423 383h2V407h-2zM1421 395h6V407h-6zM1431 392h2V411h-2zM1429 406h6V411h-6zM1448 396h2V435h-2zM1446 403h6V435h-6zM1456 425h2V497h-2zM1454 434h6V471h-6zM1464 469h2V500h-2zM1462 470h6V494h-6zM1472 480h2V496h-2zM1470 492h6V494h-6zM1489 482h2V553h-2zM1487 486h6V529h-6zM1514 458h2V479h-2zM1512 460h6V474h-6zM1522 470h2V481h-2zM1520 473h6V480h-6zM1530 471h2V484h-2zM1528 479h6V481h-6zM1555 450h2V477h-2zM1553 452h6V458h-6zM1563 455h2V478h-2zM1561 458h6V473h-6zM1580 466h2V484h-2zM1578 471h6V484h-6zM1604 436h2V481h-2zM1602 462h6V469h-6zM1613 462h2V509h-2zM1611 468h6V509h-6zM1637 490h2V515h-2zM1635 498h6V504h-6zM1646 500h2V533h-2zM1644 504h6V517h-6zM1679 429h2V441h-2zM1677 433h6V437h-6zM1687 429h2V508h-2zM1685 436h6V476h-6zM1695 449h2V501h-2zM1693 475h6V494h-6zM1720 429h2V441h-2zM1718 436h6V440h-6zM1736 428h2V446h-2zM1734 430h6V437h-6zM1745 425h2V467h-2zM1743 436h6V467h-6zM1753 443h2V473h-2zM1751 466h6V469h-6zM1761 465h2V481h-2zM1759 468h6V473h-6zM1769 469h2V475h-2zM1767 471h6V473h-6zM1778 464h2V477h-2zM1776 466h6V468h-6zM1786 465h2V480h-2zM1784 469h6V473h-6zM1794 441h2V480h-2zM1792 472h6V478h-6zM1836 448h2V465h-2zM1834 451h6V465h-6zM1844 454h2V508h-2zM1842 464h6V506h-6zM1852 498h2V544h-2zM1850 505h6V535h-6zM1885 490h2V504h-2zM1883 497h6V503h-6zM1926 351h2V363h-2zM1924 357h6V359h-6zM1935 360h2V415h-2zM1933 360h6V412h-6z" fill="#F23645"/>
<path d="M22 276H2352" stroke="#089981" stroke-width="2" stroke-dasharray="2 4" fill="none"/>
</g>
<path d="M2352 257.3h132q4 0 4 4V291.1q0 4 -4 4h-132z" fill="#089981"/>
<path d="M2352 502.0h132q4 0 4 4V535.7q0 4 -4 4h-132z" fill="#787B86"/>
<path d="M2352 464.5h132q4 0 4 4V497.8q0 4 -4 4h-132z" fill="#F23645"/>
<path d="M2352 427.0h132q4 0 4 4V460.3q0 4 -4 4h-132z" fill="#2196F3"/>
<path d="M2352 389.2h132q4 0 4 4V422.8q0 4 -4 4h-132z" fill="#4CAF50"/>
<path d="M2352 763.0h99q4 0 4 4V796.7q0 4 -4 4h-99z" fill="#7E57C2"/>
<g filter="url(#nf)">
<text x="39.0" y="65.8" font-size="27" fill="#131722" stroke="#131722" stroke-width="0.35" font-weight="normal" textLength="229.0" lengthAdjust="spacing">EUR/GBP Spot, 4h</text>
<text x="282.7" y="65.8" font-size="27" fill="#131722" stroke="#131722" stroke-width="0.35" font-weight="normal">O</text>
<text x="303.0" y="65.8" font-size="27" fill="#089981" stroke="#089981" stroke-width="0.35" font-weight="normal" textLength="103.8" lengthAdjust="spacing">0.83739</text>
<text x="421.4" y="65.8" font-size="27" fill="#131722" stroke="#131722" stroke-width="0.35" font-weight="normal">H</text>
<text x="440.9" y="65.8" font-size="27" fill="#089981" stroke="#089981" stroke-width="0.35" font-weight="normal" textLength="99.8" lengthAdjust="spacing">0.84221</text>
<text x="555.3" y="65.8" font-size="27" fill="#131722" stroke="#131722" stroke-width="0.35" font-weight="normal">L</text>
<text x="571.9" y="65.8" font-size="27" fill="#089981" stroke="#089981" stroke-width="0.35" font-weight="normal" textLength="102.8" lengthAdjust="spacing">0.83730</text>
<text x="690.2" y="65.8" font-size="27" fill="#131722" stroke="#131722" stroke-width="0.35" font-weight="normal">C</text>
<text x="709.0" y="65.8" font-size="27" fill="#089981" stroke="#089981" stroke-width="0.35" font-weight="normal" textLength="102.8" lengthAdjust="spacing">0.84149</text>
<text x="825.9" y="65.8" font-size="27" fill="#089981" stroke="#089981" stroke-width="0.35" font-weight="normal" textLength="117.4" lengthAdjust="spacing">+0.00410</text>
<text x="953.0" y="65.8" font-size="27" fill="#089981" stroke="#089981" stroke-width="0.35" font-weight="normal" textLength="115.0" lengthAdjust="spacing">(+0.49%)</text>
<text x="39.0" y="102.4" font-size="27" fill="#131722" stroke="#131722" stroke-width="0.35" font-weight="normal" textLength="225.6" lengthAdjust="spacing">MA (100, close, 0)</text>
<text x="281.0" y="102.4" font-size="27" fill="#2196F3" stroke="#2196F3" stroke-width="0.35" font-weight="normal" textLength="104.8" lengthAdjust="spacing">0.83447</text>
<text x="39.0" y="139.3" font-size="27" fill="#131722" stroke="#131722" stroke-width="0.35" font-weight="normal" textLength="213.2" lengthAdjust="spacing">MA (50, close, 0)</text>
<text x="268.7" y="139.3" font-size="27" fill="#F23645" stroke="#F23645" stroke-width="0.35" font-weight="normal" textLength="105.2" lengthAdjust="spacing">0.83364</text>
<text x="39.0" y="176.2" font-size="27" fill="#131722" stroke="#131722" stroke-width="0.35" font-weight="normal" textLength="229.0" lengthAdjust="spacing">MA (200, close, 0)</text>
<text x="284.8" y="176.2" font-size="27" fill="#4CAF50" stroke="#4CAF50" stroke-width="0.35" font-weight="normal" textLength="102.4" lengthAdjust="spacing">0.83576</text>
<text x="40.1" y="793.8" font-size="27" fill="#131722" stroke="#131722" stroke-width="0.35" font-weight="normal" textLength="97.0" lengthAdjust="spacing">RSI (14)</text>
<text x="152.0" y="793.8" font-size="27" fill="#7E57C2" stroke="#7E57C2" stroke-width="0.35" font-weight="normal" textLength="67.0" lengthAdjust="spacing">72.18</text>
<text x="1906.5" y="338.3" font-size="34" fill="#434651" stroke="#434651" stroke-width="0.2" font-weight="bold">a</text>
<text x="1957.0" y="427.5" font-size="31" fill="#434651" stroke="#434651" stroke-width="0.2" font-weight="bold">b</text>
<text x="1981.5" y="212.5" font-size="31" fill="#434651" stroke="#434651" stroke-width="0.2" font-weight="bold" textLength="35.0" lengthAdjust="spacing">c?</text>
<text x="2370.7" y="89.5" font-size="28" fill="#131722" stroke="#131722" stroke-width="0.35" font-weight="normal" textLength="107.0" lengthAdjust="spacing">0.85000</text>
<text x="2370.7" y="204.8" font-size="28" fill="#131722" stroke="#131722" stroke-width="0.35" font-weight="normal" textLength="107.0" lengthAdjust="spacing">0.84500</text>
<text x="2370.7" y="320.2" font-size="28" fill="#131722" stroke="#131722" stroke-width="0.35" font-weight="normal" textLength="107.0" lengthAdjust="spacing">0.84000</text>
<text x="2370.7" y="550.9" font-size="28" fill="#131722" stroke="#131722" stroke-width="0.35" font-weight="normal" textLength="107.0" lengthAdjust="spacing">0.83000</text>
<text x="2370.7" y="666.2" font-size="28" fill="#131722" stroke="#131722" stroke-width="0.35" font-weight="normal" textLength="107.0" lengthAdjust="spacing">0.82500</text>
<text x="2370.7" y="853.5" font-size="28" fill="#131722" stroke="#131722" stroke-width="0.35" font-weight="normal" textLength="73.2" lengthAdjust="spacing">50.00</text>
<text x="2370.7" y="924.5" font-size="28" fill="#131722" stroke="#131722" stroke-width="0.35" font-weight="normal" textLength="73.2" lengthAdjust="spacing">25.00</text>
<text x="2370.7" y="285.2" font-size="28" fill="#fff" stroke="#fff" stroke-width="0.05" font-weight="normal" textLength="107.0" lengthAdjust="spacing">0.84149</text>
<text x="2370.7" y="529.8" font-size="28" fill="#fff" stroke="#fff" stroke-width="0.05" font-weight="normal" textLength="107.0" lengthAdjust="spacing">0.83110</text>
<text x="2370.7" y="492.2" font-size="28" fill="#fff" stroke="#fff" stroke-width="0.05" font-weight="normal" textLength="106.0" lengthAdjust="spacing">0.83364</text>
<text x="2370.7" y="454.6" font-size="28" fill="#fff" stroke="#fff" stroke-width="0.05" font-weight="normal" textLength="107.0" lengthAdjust="spacing">0.83447</text>
<text x="2370.7" y="417.0" font-size="28" fill="#fff" stroke="#fff" stroke-width="0.05" font-weight="normal" textLength="107.0" lengthAdjust="spacing">0.83576</text>
<text x="2370.7" y="790.8" font-size="28" fill="#fff" stroke="#fff" stroke-width="0.05" font-weight="normal" textLength="73.2" lengthAdjust="spacing">72.18</text>
<text x="177.2" y="994.0" font-size="27" fill="#131722" stroke="#131722" stroke-width="0.35" font-weight="normal" textLength="32.0" lengthAdjust="spacing">12</text>
<text x="375.2" y="994.0" font-size="27" fill="#131722" stroke="#131722" stroke-width="0.35" font-weight="normal" textLength="32.0" lengthAdjust="spacing">18</text>
<text x="574.0" y="994.0" font-size="27" fill="#131722" stroke="#131722" stroke-width="0.35" font-weight="normal" textLength="31.0" lengthAdjust="spacing">24</text>
<text x="814.0" y="994.0" font-size="27" fill="#131722" stroke="#131722" stroke-width="0.2" font-weight="bold" textLength="46.0" lengthAdjust="spacing">Oct</text>
<text x="1027.7" y="994.0" font-size="27" fill="#131722" stroke="#131722" stroke-width="0.35" font-weight="normal">7</text>
<text x="1217.5" y="994.0" font-size="27" fill="#131722" stroke="#131722" stroke-width="0.35" font-weight="normal" textLength="30.0" lengthAdjust="spacing">11</text>
<text x="1415.5" y="994.0" font-size="27" fill="#131722" stroke="#131722" stroke-width="0.35" font-weight="normal" textLength="32.0" lengthAdjust="spacing">17</text>
<text x="1614.0" y="994.0" font-size="27" fill="#131722" stroke="#131722" stroke-width="0.35" font-weight="normal" textLength="32.0" lengthAdjust="spacing">23</text>
<text x="1950.4" y="994.0" font-size="27" fill="#131722" stroke="#131722" stroke-width="0.2" font-weight="bold" textLength="51.0" lengthAdjust="spacing">Nov</text>
<text x="2175.2" y="994.0" font-size="27" fill="#131722" stroke="#131722" stroke-width="0.35" font-weight="normal">7</text>
<text x="73.6" y="1064.5" font-size="29" fill="#131722" stroke="#131722" stroke-width="0.35" font-weight="normal" textLength="162.4" lengthAdjust="spacing">TradingView</text>
</g>
<path d="M21.9 1042H38.9V1062.8H30.5V1050H21.9zM55.5 1042H65.1L56.2 1062.8H46.5z" fill="#131722"/><circle cx="46.4" cy="1046.2" r="4.8" fill="#131722"/>
</svg></body></html>
